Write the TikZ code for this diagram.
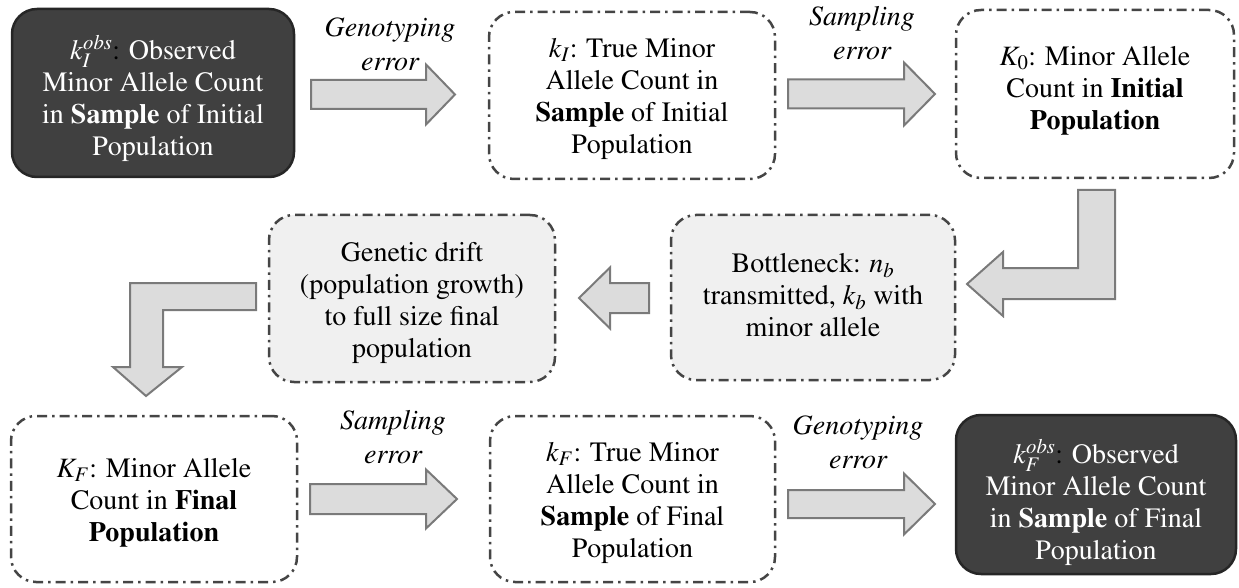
\documentclass[tikz,border=0pt]{standalone}
\usepackage[T1]{fontenc}
\usepackage{mathptmx}
\usepackage{amsmath}
\usetikzlibrary{calc}

\definecolor{darkfill}{HTML}{404040}
\definecolor{darkline}{HTML}{262626}
\definecolor{dashline}{HTML}{454545}
\definecolor{lightfill}{HTML}{F0F0F0}
\definecolor{arrowfill}{HTML}{DCDCDC}
\definecolor{arrowline}{HTML}{7A7A7A}

% horizontal block arrow: tail x, tip x, centre y, shaft half-width, head half-width, head base x
\newcommand{\harrow}[6]{%
  \draw[blockarrow] (#1,#3-#4) -- (#6,#3-#4) -- (#6,#3-#5) -- (#2,#3)
    -- (#6,#3+#5) -- (#6,#3+#4) -- (#1,#3+#4) -- cycle;}

\tikzset{
  boxtext/.style={font=\fontsize{28}{32}\selectfont, align=center, inner sep=0pt},
  whitetext/.style={boxtext, text=white},
  darkbox/.style={rectangle, rounded corners=25pt, fill=darkfill,
    draw=darkline, line width=2.5pt},
  dashbox/.style={rectangle, rounded corners=25pt, fill=white,
    draw=dashline, line width=2.5pt,
    dash pattern=on 10pt off 5pt on 2.5pt off 5pt},
  graybox/.style={dashbox, fill=lightfill},
  blockarrow/.style={fill=arrowfill, draw=arrowline, line width=2pt, line join=miter},
  errlabel/.style={font=\fontsize{28}{34}\selectfont\itshape, align=center, inner sep=0pt},
}

\begin{document}
\begin{tikzpicture}[x=1pt, y=-1pt]
  \useasboundingbox (0,0) rectangle (1239,588);

  % top row
  \node[darkbox, minimum width=282, minimum height=168] (b1) at (153,93) {};
  \node[whitetext] (t1) at (153,98)
    {$k_{I}^{obs}${\color{black}:} Observed\\Minor Allele Count\\in \textbf{Sample} of Initial\\Population};
  \node[dashbox, minimum width=286, minimum height=167] (b2) at (632,95.5) {};
  \node[boxtext] (t2) at (632,98.5)
    {$k_{I}$: True Minor\\Allele Count in\\\textbf{Sample} of Initial\\Population};
  \node[dashbox, minimum width=278, minimum height=168] (b3) at (1095,94) {};
  \node[boxtext] (t3) at (1095,90.5)
    {$K_{0}$: Minor Allele\\Count in \textbf{Initial}\\\textbf{Population}};

  % middle row
  \node[graybox, minimum width=284, minimum height=165] (b4) at (813,297.5) {};
  \node[boxtext] (t4) at (813,295.5)
    {Bottleneck: $n_{b}$\\transmitted, $k_{b}$ with\\minor allele};
  \node[graybox, minimum width=286, minimum height=167] (b5) at (412,298.5) {};
  \node[boxtext] (t5) at (412,303)
    {Genetic drift\\(population growth)\\to full size final\\population};

  % bottom row
  \node[dashbox, minimum width=286, minimum height=166] (b6) at (154,499) {};
  \node[boxtext] (t6) at (154,502.5)
    {$K_{F}$: Minor Allele\\Count in \textbf{Final}\\\textbf{Population}};
  \node[dashbox, minimum width=285, minimum height=166] (b7) at (632.5,499) {};
  \node[boxtext] (t7) at (632.5,503)
    {$k_{F}$: True Minor\\Allele Count in\\\textbf{Sample} of Final\\Population};
  \node[darkbox, minimum width=280, minimum height=159] (b8) at (1096,494.5) {};
  \node[whitetext] (t8) at (1096,502)
    {$k_{F}^{obs}${\color{black}:} Observed\\Minor Allele Count\\in \textbf{Sample} of Final\\Population};

  % straight block arrows
  \harrow{311}{455}{94.5}{14.5}{30}{426}
  \harrow{788}{935}{94}{14.5}{31.5}{904}
  \harrow{649}{579}{298}{15}{30.5}{610}
  \harrow{310}{457}{499}{15}{29.5}{426}
  \harrow{788}{935}{504}{14}{30.5}{904}

  % bent arrow from the top row down into the bottleneck
  \draw[blockarrow] (1078,190) -- (1115,190) -- (1115,299) -- (1003,299)
    -- (1003,316) -- (967,284) -- (1003,252) -- (1003,268) -- (1078,268) -- cycle;

  % bent arrow from genetic drift down to the final population
  \draw[blockarrow] (256,283) -- (256,310) -- (163,310) -- (163,367)
    -- (182,367) -- (146,396) -- (113,367) -- (130,367) -- (130,283) -- cycle;

  % arrow labels
  \node[errlabel] (l1) at (390,44) {Genotyping\\error};
  \node[errlabel] (l2) at (862,33) {Sampling\\error};
  \node[errlabel] (l3) at (393,437) {Sampling\\error};
  \node[errlabel] (l4) at (858,442) {Genotyping\\error};
\end{tikzpicture}
\end{document}
